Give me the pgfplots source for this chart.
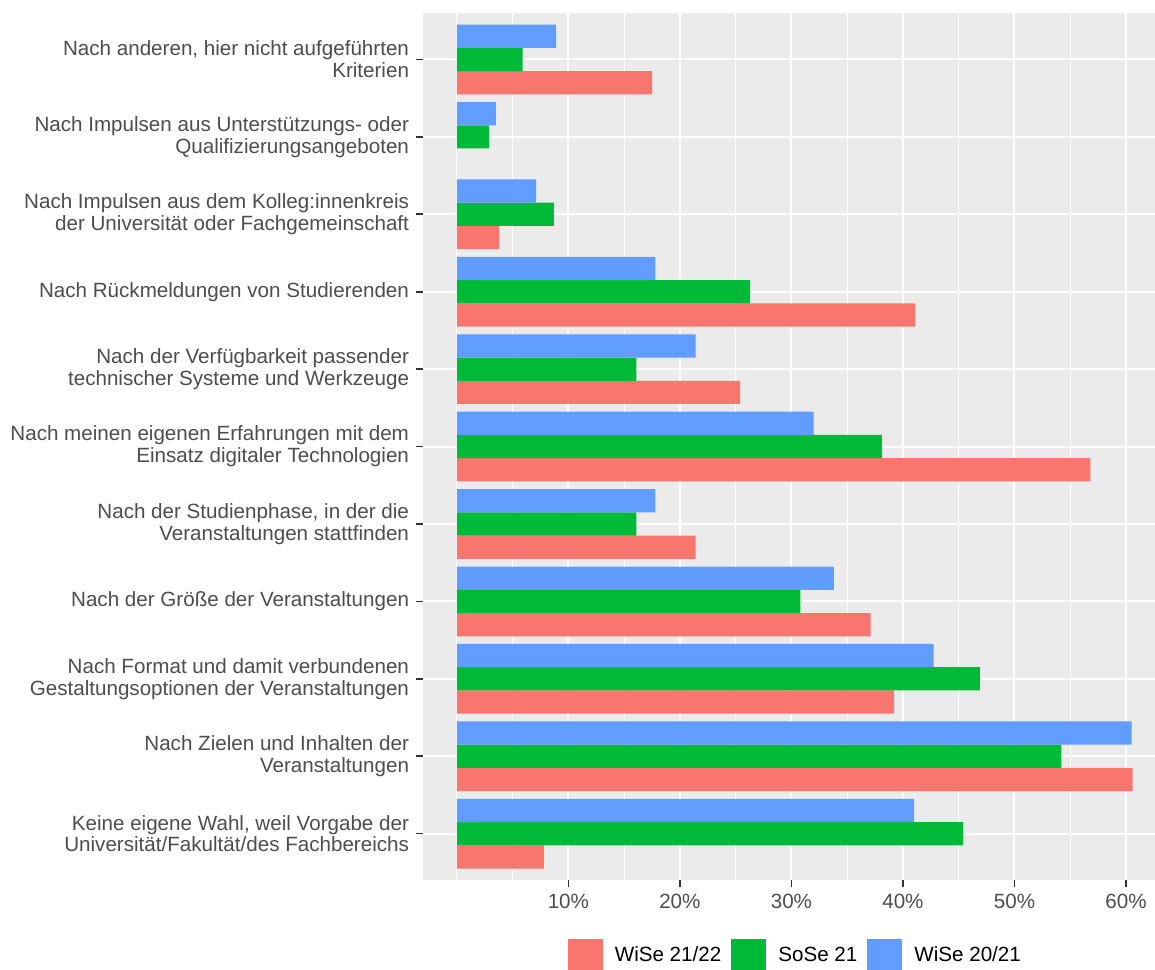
\documentclass[border=0pt]{standalone}
\usepackage{fontspec}
\setmainfont{Liberation Sans}
\usepackage{pgfplots}
\pgfplotsset{compat=1.18}

\definecolor{wise2122}{HTML}{F8766D}
\definecolor{sose21}{HTML}{00BA38}
\definecolor{wise2021}{HTML}{619CFF}
\definecolor{panel}{HTML}{EBEBEB}
\definecolor{gray20}{HTML}{333333}
\definecolor{gray30}{HTML}{4D4D4D}

\newcommand{\lbl}{\fontsize{10.3}{10.9}\selectfont}

\begin{document}
\begin{tikzpicture}
\begin{axis}[
    name=ax,
    scale only axis,
    width=365.9pt,
    height=433.5pt,
    xbar,
    xmin=-3.03, xmax=62.6,
    ymin=-0.6, ymax=10.6,
    enlargelimits=false,
    axis background/.style={fill=panel},
    axis lines*=left,
    axis line style={draw=none},
    tick align=outside,
    major tick length=3.5pt,
    minor tick length=0pt,
    tick style={color=gray20, line width=0.8pt},
    xtick={10,20,30,40,50,60},
    xticklabels={10\%,20\%,30\%,40\%,50\%,60\%},
    minor xtick={0,5,15,25,35,45,55},
    ytick={0,1,2,3,4,5,6,7,8,9,10},
    yticklabels={
        {Keine eigene Wahl, weil Vorgabe der\\Universität/Fakultät/des Fachbereichs},
        {Nach Zielen und Inhalten der\\Veranstaltungen},
        {Nach Format und damit verbundenen\\Gestaltungsoptionen der Veranstaltungen},
        {Nach der Größe der Veranstaltungen},
        {Nach der Studienphase, in der die\\Veranstaltungen stattfinden},
        {Nach meinen eigenen Erfahrungen mit dem\\Einsatz digitaler Technologien},
        {Nach der Verfügbarkeit passender\\technischer Systeme und Werkzeuge},
        {Nach Rückmeldungen von Studierenden},
        {Nach Impulsen aus dem Kolleg:innenkreis\\der Universität oder Fachgemeinschaft},
        {Nach Impulsen aus Unterstützungs- oder\\Qualifizierungsangeboten},
        {Nach anderen, hier nicht aufgeführten\\Kriterien}},
    yticklabel style={align=right, font=\lbl, text=gray30},
    xticklabel style={font=\lbl, text=gray30},
    xmajorgrids, xminorgrids, ymajorgrids,
    major grid style={white, line width=1pt},
    minor grid style={white, line width=0.6pt},
    bar width=0.3,
    legend style={at={(0.51,-0.0875)}, anchor=center, legend columns=3,
        draw=none, fill=none, font=\lbl,
        /tikz/every odd column/.append style={column sep=4pt},
        /tikz/every even column/.append style={column sep=3pt}},
    legend image code/.code={\fill[#1] (0pt,-8.75pt) rectangle (17.5pt,8.75pt);},
]
\addplot[draw=none, fill=wise2122, bar shift=-0.3] coordinates {
    (7.8,0) (60.6,1) (39.2,2) (37.1,3) (21.4,4) (56.8,5) (25.4,6) (41.1,7) (3.8,8) (17.5,10)};
\addplot[draw=none, fill=sose21, bar shift=0] coordinates {
    (45.4,0) (54.2,1) (46.9,2) (30.8,3) (16.1,4) (38.1,5) (16.1,6) (26.3,7) (8.7,8) (2.9,9) (5.9,10)};
\addplot[draw=none, fill=wise2021, bar shift=0.3] coordinates {
    (41.0,0) (60.5,1) (42.75,2) (33.8,3) (17.8,4) (32.0,5) (21.4,6) (17.8,7) (7.1,8) (3.5,9) (8.9,10)};
\legend{WiSe 21/22, SoSe 21, WiSe 20/21}
\end{axis}
\pgfresetboundingbox
\path ([xshift=-211.5pt, yshift=-44.5pt]ax.south west) rectangle ([yshift=6.5pt]ax.north east);
\end{tikzpicture}
\end{document}
